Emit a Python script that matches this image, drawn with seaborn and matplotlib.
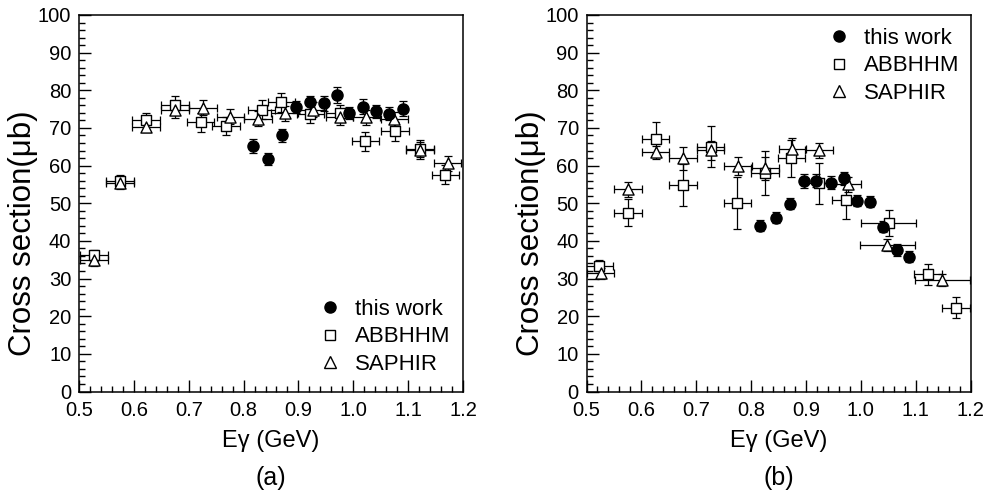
import matplotlib
matplotlib.use("Agg")
import matplotlib.pyplot as plt
from matplotlib.lines import Line2D
from matplotlib.ticker import MultipleLocator
import seaborn as sns
import pandas as pd

# ---------------- data ----------------
# panel (a)
a_this_E = [0.818, 0.845, 0.870, 0.895, 0.921, 0.946, 0.970, 0.993, 1.018, 1.041, 1.066, 1.090]
a_this_y = [65.2, 61.7, 68.0, 75.5, 76.8, 76.5, 78.7, 73.9, 75.6, 74.4, 73.8, 75.1]
a_this_err = [1.8, 1.6, 1.6, 1.6, 1.8, 2.0, 2.2, 1.6, 2.0, 1.8, 1.8, 2.0]

a_abb_E = [0.527, 0.575, 0.622, 0.675, 0.722, 0.768, 0.833, 0.869, 0.922, 0.975, 1.022, 1.076, 1.122, 1.168]
a_abb_y = [36.2, 56.0, 72.1, 76.1, 71.5, 70.5, 74.8, 76.8, 73.7, 74.0, 66.5, 69.1, 64.3, 57.6]
a_abb_err = [1.5, 1.5, 1.8, 2.5, 2.5, 2.5, 2.5, 2.5, 2.5, 2.0, 2.5, 2.5, 2.5, 2.5]
a_abb_xerr = [0.025] * 14

a_sap_E = [0.527, 0.575, 0.622, 0.675, 0.726, 0.776, 0.826, 0.875, 0.926, 0.975, 1.024, 1.075, 1.122, 1.172]
a_sap_y = [34.9, 55.3, 70.3, 74.7, 75.4, 73.0, 72.5, 73.9, 74.8, 72.8, 72.8, 72.3, 64.2, 60.6]
a_sap_err = [1.5, 1.5, 1.5, 2.0, 2.0, 2.0, 2.0, 2.0, 2.0, 2.0, 2.0, 2.0, 2.0, 2.0]
a_sap_xerr = [0.025] * 14

# panel (b)
b_this_E = [0.817, 0.845, 0.870, 0.896, 0.919, 0.945, 0.970, 0.993, 1.017, 1.041, 1.065, 1.088]
b_this_y = [44.0, 46.2, 49.9, 55.9, 56.0, 55.5, 56.6, 50.7, 50.4, 43.8, 37.6, 35.8]
b_this_err = [1.5, 1.5, 1.5, 1.8, 1.8, 1.8, 1.8, 1.5, 1.5, 1.5, 1.5, 1.5]

b_abb_E = [0.523, 0.576, 0.626, 0.676, 0.726, 0.775, 0.825, 0.873, 0.924, 0.972, 1.051, 1.122, 1.173]
b_abb_y = [33.4, 47.5, 67.1, 54.8, 65.0, 50.1, 58.1, 61.9, 55.3, 50.9, 44.8, 31.1, 22.3]
b_abb_err = [1.5, 3.5, 4.5, 5.5, 5.5, 7.0, 5.8, 5.0, 5.5, 5.0, 3.5, 2.8, 2.8]
b_abb_xerr = [0.025, 0.025, 0.025, 0.025, 0.025, 0.025, 0.025, 0.025, 0.025, 0.025, 0.05, 0.025, 0.025]

b_sap_E = [0.526, 0.576, 0.626, 0.676, 0.726, 0.776, 0.825, 0.875, 0.924, 0.976, 1.048, 1.148]
b_sap_y = [31.4, 53.7, 63.5, 61.9, 64.1, 59.9, 59.3, 64.4, 64.1, 55.1, 38.9, 29.6]
b_sap_err = [1.5, 2.0, 1.8, 3.0, 2.5, 2.3, 3.0, 3.0, 2.0, 2.0, 1.5, 1.5]
b_sap_xerr = [0.025] * 10 + [0.05, 0.05]

labels = ["this work", "ABBHHM", "SAPHIR"]
xticks = [0.5, 0.6, 0.7, 0.8, 0.9, 1.0, 1.1, 1.2]
xticklabels = ["0.5", "0.6", "0.7", "0.8", "0.9", "1.0", "1.1", "1.2"]
yticks = [0, 10, 20, 30, 40, 50, 60, 70, 80, 90, 100]
panel_tags = ["(a)", "(b)"]

# ---------------- style ----------------
sns.set_theme(style="ticks")
plt.rcParams["font.family"] = ["Liberation Sans", "DejaVu Sans"]
plt.rcParams.update({
    "xtick.direction": "in", "ytick.direction": "in",
    "xtick.major.size": 8.5, "ytick.major.size": 8.5,
    "xtick.minor.size": 4.5, "ytick.minor.size": 4.5,
    "xtick.major.width": 1.0, "ytick.major.width": 1.0,
    "xtick.minor.width": 1.0, "ytick.minor.width": 1.0,
    "xtick.color": "black", "ytick.color": "black",
    "xtick.labelcolor": "black", "ytick.labelcolor": "black",
    "text.color": "black", "axes.labelcolor": "black",
    "axes.edgecolor": "black", "axes.linewidth": 1.1,
})

W, H = 994, 496
fig = plt.figure(figsize=(W / 100, H / 100), dpi=100)
fig.patch.set_facecolor("white")

ax_px = [(79, 463), (586.5, 970.7)]
top_px, bot_px = 15, 391.5

panels = [
    dict(this=(a_this_E, a_this_y, a_this_err),
         abb=(a_abb_E, a_abb_y, a_abb_err, a_abb_xerr),
         sap=(a_sap_E, a_sap_y, a_sap_err, a_sap_xerr),
         leg=(0.626, 0.145)),
    dict(this=(b_this_E, b_this_y, b_this_err),
         abb=(b_abb_E, b_abb_y, b_abb_err, b_abb_xerr),
         sap=(b_sap_E, b_sap_y, b_sap_err, b_sap_xerr),
         leg=(0.630, 0.865)),
]

for i, p in enumerate(panels):
    l, r = ax_px[i]
    ax = fig.add_axes([l / W, (H - bot_px) / H, (r - l) / W, (bot_px - top_px) / H])

    def series_df(E, y, err, xerr, name):
        return pd.DataFrame({"E": E, "xs": y, "err": err, "xerr": xerr, "src": name})

    abb = series_df(*p["abb"], labels[1])
    sap = series_df(*p["sap"], labels[2])
    thw = series_df(*p["this"], [0.0] * len(p["this"][0]), labels[0])

    for df, mk, fc, sz in [(abb, "s", "white", 52), (sap, "^", "white", 64), (thw, "o", "black", 64)]:
        xe = df["xerr"] if (df["xerr"] > 0).any() else None
        ax.errorbar(df["E"], df["xs"], yerr=df["err"], xerr=xe, fmt="none",
                    ecolor="black", elinewidth=0.9, capsize=2.6, capthick=0.9, zorder=2)
        sns.scatterplot(data=df, x="E", y="xs", marker=mk, s=sz, color=fc,
                        edgecolor="black", linewidth=1.0, ax=ax, zorder=3, legend=False)

    ax.set_xlim(0.5, 1.2)
    ax.set_ylim(0, 100)
    ax.set_xticks(xticks)
    ax.set_xticklabels(xticklabels)
    ax.set_yticks(yticks)
    ax.xaxis.set_minor_locator(MultipleLocator(0.02))
    ax.yaxis.set_minor_locator(MultipleLocator(2))
    ax.tick_params(axis="both", which="both", top=False, right=False)
    ax.tick_params(axis="x", which="major", labelsize=14.5, pad=7)
    ax.tick_params(axis="y", which="major", labelsize=14.5, pad=5.5)
    ax.set_xlabel("")
    ax.set_ylabel("")
    for s in ax.spines.values():
        s.set_visible(True)
        s.set_color("black")

    handles = [
        Line2D([], [], ls="none", marker="o", ms=8, mfc="black", mec="black", mew=1.0),
        Line2D([], [], ls="none", marker="s", ms=7.2, mfc="white", mec="black", mew=1.0),
        Line2D([], [], ls="none", marker="^", ms=8, mfc="white", mec="black", mew=1.0),
    ]
    ax.legend(handles, labels, loc="center left", bbox_to_anchor=p["leg"],
              frameon=False, fontsize=16, handlelength=0.95, handletextpad=0.65,
              labelspacing=0.28, borderpad=0, borderaxespad=0)

    cx = (l + r) / 2
    fig.text(cx / W, 1 - 441 / H, "Eγ (GeV)", ha="center", va="center", fontsize=17)
    fig.text(cx / W, 1 - 478 / H, panel_tags[i], ha="center", va="center", fontsize=18)
    fig.text((l - 56) / W, 1 - 233 / H, "Cross section(μb)", rotation=90,
             ha="center", va="center", fontsize=22.5)

fig.savefig("out.png", dpi=100, facecolor="white")
